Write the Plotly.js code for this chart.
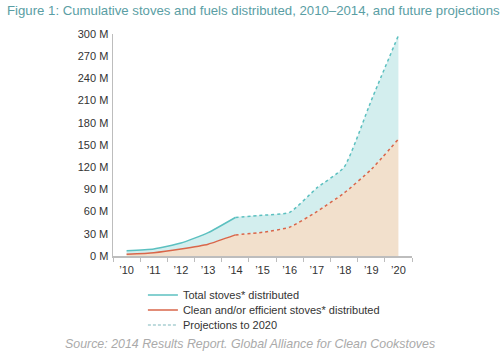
<!DOCTYPE html>
<html>
<head>
<meta charset="utf-8">
<script src="https://cdn.plot.ly/plotly-3.0.1.min.js"></script>
<style>html,body{margin:0;padding:0;background:#fff;}#chart{width:500px;height:356px;}</style>
</head>
<body>
<div id="chart"></div>
<script>
var years = ["’10","’11","’12","’13","’14","’15","’16","’17","’18","’19","’20"];
var totalStoves = [7, 9.5, 17.5, 31.5, 52, 55, 59, 92, 120, 210, 298];
var cleanStoves = [2.3, 4.5, 9.5, 16, 28.5, 32, 39, 60, 85, 117, 158];
var yTickVals = [0, 30, 60, 90, 120, 150, 180, 210, 240, 270, 300];
var yTickText = ["0 M","30 M","60 M","90 M","120 M","150 M","180 M","210 M","240 M","270 M","300 M"];
var histEnd = 4; // index of '14

var tealLine = "#5cc0c0", tealFill = "#d3eeee";
var orangeLine = "#d9664a", orangeFill = "#f2e0cc";
var shape = {shape: "spline", smoothing: 0.5};

var hist = years.slice(0, histEnd + 1), proj = years.slice(histEnd);
var traces = [
  {x: years, y: cleanStoves, type: "scatter", mode: "lines", fill: "tozeroy",
   fillcolor: orangeFill, line: Object.assign({width: 0, color: orangeFill}, shape), showlegend: false, hoverinfo: "skip"},
  {x: years, y: totalStoves, type: "scatter", mode: "lines", fill: "tonexty",
   fillcolor: tealFill, line: Object.assign({width: 0, color: tealFill}, shape), showlegend: false, hoverinfo: "skip"},
  {x: hist, y: totalStoves.slice(0, histEnd + 1), type: "scatter", mode: "lines", legend: "legend",
   line: Object.assign({width: 1.5, color: tealLine}, shape), name: "Total stoves* distributed"},
  {x: hist, y: cleanStoves.slice(0, histEnd + 1), type: "scatter", mode: "lines", legend: "legend2",
   line: Object.assign({width: 1.5, color: orangeLine}, shape), name: "Clean and/or efficient stoves* distributed"},
  {x: proj, y: totalStoves.slice(histEnd), type: "scatter", mode: "lines",
   line: Object.assign({width: 1.5, color: tealLine, dash: "3px,3px"}, shape), showlegend: false},
  {x: proj, y: cleanStoves.slice(histEnd), type: "scatter", mode: "lines",
   line: Object.assign({width: 1.5, color: orangeLine, dash: "3px,3px"}, shape), showlegend: false},
  {x: [null], y: [null], type: "scatter", mode: "lines", legend: "legend3",
   line: {width: 1.5, color: "#a9cfd2", dash: "3px,2px"}, name: "Projections to 2020"}
];

function leg(row) {
  return {x: 0.1, xanchor: "left", y: (256 - row) / 222, yanchor: "middle", orientation: "v",
          font: {size: 11, color: "#333"}, itemwidth: 30, bgcolor: "rgba(0,0,0,0)"};
}

var layout = {
  width: 500, height: 356,
  margin: {l: 113, r: 88, t: 34, b: 100, autoexpand: false},
  paper_bgcolor: "#fff", plot_bgcolor: "#fff",
  font: {family: "Liberation Sans, Arial, sans-serif", size: 11, color: "#333"},
  title: {text: "Figure 1: Cumulative stoves and fuels distributed, 2010–2014, and future projections",
          xref: "container", yref: "container", x: 0.014, xanchor: "left", y: 0.972, yanchor: "middle",
          font: {size: 13.2, color: "#5a9ea4", family: "Liberation Sans, Arial, sans-serif"}},
  xaxis: {type: "category", range: [-0.5, 10.5], showgrid: false, zeroline: false,
          showline: true, linecolor: "#bdbdbd", linewidth: 1.5,
          ticks: "outside", tickson: "boundaries", ticklen: 4, tickcolor: "#bdbdbd",
          ticklabelstandoff: 3, automargin: false,
          tickfont: {size: 11, color: "#333"}, fixedrange: true},
  yaxis: {range: [0, 300], tickvals: yTickVals, ticktext: yTickText, showgrid: false, zeroline: false,
          showline: true, linecolor: "#bdbdbd", linewidth: 1.5, ticks: "", ticklabelstandoff: 1,
          automargin: false, tickfont: {size: 11, color: "#333"}, fixedrange: true},
  legend: leg(295),
  legend2: leg(310),
  legend3: leg(325),
  annotations: [{text: "Source: 2014 Results Report. Global Alliance for Clean Cookstoves",
                 xref: "paper", yref: "paper", x: (250 - 113) / 299, y: (256 - 344) / 222, xanchor: "center", yanchor: "middle",
                 showarrow: false, font: {size: 12.4, color: "#aaaaaa", family: "Liberation Sans, Arial, sans-serif", style: "italic"}}],
  showlegend: true
};
Plotly.newPlot("chart", traces, layout, {displayModeBar: false, staticPlot: true});
</script>
</body>
</html>
